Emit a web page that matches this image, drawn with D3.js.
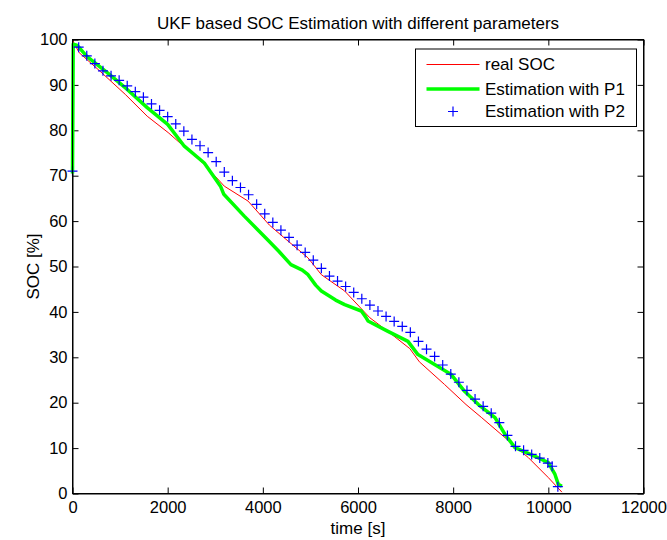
<!DOCTYPE html>
<html>
<head>
<meta charset="utf-8">
<script src="https://cdn.jsdelivr.net/npm/d3@7"></script>
<style>
    html, body { margin: 0; padding: 0; background: #fff; }
    svg { display: block; font-family: 'Liberation Sans', Arial, sans-serif; }
    .axis text { font-size: 16.5px; fill: #000; }
    .axis path, .axis line { stroke: #000; }
</style>
</head>
<body>
<svg id="chart"></svg>
<script>
const WIDTH = 667
const HEIGHT = 540
const PADDING = [39.5, 23.5, 46.5, 72.5] // top, right, bottom, left

const title = 'UKF based SOC Estimation with different parameters'
const xLabel = 'time [s]'
const yLabel = 'SOC [%]'
const seriesNames = ['real SOC', 'Estimation with P1', 'Estimation with P2']

const xTicks = [0, 2000, 4000, 6000, 8000, 10000, 12000]
const yTicks = [0, 10, 20, 30, 40, 50, 60, 70, 80, 90, 100]

// real SOC
const realTime = [0, 140, 580, 1110, 1570, 2010, 2770, 3190, 3690, 4140, 4530, 4950, 5230,
    5720, 6250, 6630, 7090, 7290, 7820, 8270, 8600, 9090, 9580, 10000, 10285]
const realSoc = [99.8, 97.1, 93.0, 87.9, 83.1, 79.5, 72.5, 67.7, 64.4, 59.1, 55.6, 51.9, 48.2,
    44.6, 38.7, 35.7, 31.9, 29.0, 24.0, 19.6, 16.7, 12.3, 7.9, 3.5, 0.3]

// estimation with P1 (green)
const p1Time = [0, 15, 100, 300, 730, 1150, 1570, 2000, 2350, 2770, 3110, 3180, 3610, 4100,
    4340, 4590, 4830, 4950, 5110, 5230, 5530, 5720, 6070, 6160, 6210, 6630, 7050, 7260,
    7610, 7960, 8240, 8530, 8880, 9090, 9300, 9720, 10000, 10140, 10210, 10285]
const p1Soc = [70.5, 99.0, 98.7, 96.3, 92.7, 89.0, 85.0, 81.3, 76.5, 72.8, 67.7, 65.9, 61.1, 55.9,
    53.3, 50.4, 49.2, 48.2, 45.9, 44.6, 42.6, 41.6, 40.2, 38.9, 38.0, 35.7, 33.5, 30.6,
    28.4, 26.2, 22.5, 19.6, 16.7, 13.0, 10.1, 8.2, 6.8, 4.2, 2.0, 1.6]

// estimation with P2 (blue markers)
const p2Time = [0, 130, 300, 470, 640, 810, 980, 1150, 1320, 1490, 1660, 1830, 2000, 2170, 2340,
    2510, 2680, 2850, 3020, 3190, 3360, 3530, 3700, 3870, 4040, 4210, 4380, 4550, 4720,
    4890, 5060, 5230, 5400, 5570, 5740, 5910, 6080, 6250, 6420, 6590, 6760, 6930, 7100,
    7270, 7440, 7610, 7780, 7950, 8120, 8290, 8460, 8630, 8800, 8970, 9140, 9310, 9480,
    9650, 9820, 9990, 10080, 10200]
const p2Soc = [71.0, 98.3, 96.4, 94.7, 93.1, 92.0, 91.0, 89.8, 88.5, 87.3, 85.8, 84.4, 83.0, 81.4, 79.8,
    78.0, 76.6, 75.1, 73.1, 70.8, 68.9, 67.4, 65.8, 63.7, 61.6, 59.7, 58.0, 56.4, 54.7,
    53.1, 51.4, 49.6, 47.9, 46.8, 45.6, 44.3, 42.9, 41.5, 40.2, 39.0, 37.9, 36.8, 35.5,
    33.5, 31.8, 30.2, 28.3, 26.3, 24.5, 22.7, 20.8, 19.2, 17.7, 15.6, 12.8, 10.4, 9.5,
    8.6, 7.8, 6.7, 6.0, 1.5]

const leftSide = PADDING[3]
const rightSide = WIDTH - PADDING[1]
const topSide = PADDING[0]
const bottomSide = HEIGHT - PADDING[2]

const svg = d3.select('#chart')
    .attr('width', WIDTH)
    .attr('height', HEIGHT)
    .attr('viewBox', `0 0 ${WIDTH} ${HEIGHT}`)

const xScale = d3.scaleLinear().domain([0, 12000]).range([leftSide, rightSide])
const yScale = d3.scaleLinear().domain([0, 100]).range([bottomSide, topSide])

// plot background
svg.append('rect')
    .attr('x', leftSide).attr('y', topSide)
    .attr('width', rightSide - leftSide).attr('height', bottomSide - topSide)
    .attr('fill', '#fff')

// axes, ticks pointing inward like matlab
svg.append('g').attr('class', 'axis')
    .attr('transform', `translate(0,${bottomSide})`)
    .call(d3.axisBottom(xScale).tickValues(xTicks).tickSizeInner(-6).tickSizeOuter(0).tickPadding(8).tickFormat(d3.format('d')))
svg.append('g').attr('class', 'axis')
    .attr('transform', `translate(0,${topSide})`)
    .call(d3.axisTop(xScale).tickValues(xTicks).tickSizeInner(-6).tickSizeOuter(0).tickFormat(''))
svg.append('g').attr('class', 'axis')
    .attr('transform', `translate(${leftSide},0)`)
    .call(d3.axisLeft(yScale).tickValues(yTicks).tickSizeInner(-6).tickSizeOuter(0).tickPadding(5))
svg.append('g').attr('class', 'axis')
    .attr('transform', `translate(${rightSide},0)`)
    .call(d3.axisRight(yScale).tickValues(yTicks).tickSizeInner(-6).tickSizeOuter(0).tickFormat(''))

const plot = svg.append('g')

const line = d3.line()
    .x(d => xScale(d[0]))
    .y(d => yScale(d[1]))

plot.append('path')
    .datum(d3.zip(realTime, realSoc))
    .attr('fill', 'none')
    .attr('stroke', '#ff0000')
    .attr('stroke-width', 1)
    .attr('d', line)

plot.append('path')
    .datum(d3.zip(p1Time, p1Soc))
    .attr('fill', 'none')
    .attr('stroke', '#00ff00')
    .attr('stroke-width', 3.5)
    .attr('stroke-linejoin', 'round')
    .attr('d', line)

const MARK = 5

function drawPlus(g, cx, cy) {
    g.append('path')
        .attr('d', `M${cx - MARK},${cy}H${cx + MARK}M${cx},${cy - MARK}V${cy + MARK}`)
        .attr('stroke', '#0000ff')
        .attr('stroke-width', 1.2)
        .attr('fill', 'none')
}

d3.zip(p2Time, p2Soc).forEach(d => drawPlus(plot, xScale(d[0]), yScale(d[1])))

// frame on top
svg.append('rect')
    .attr('x', leftSide).attr('y', topSide)
    .attr('width', rightSide - leftSide).attr('height', bottomSide - topSide)
    .attr('fill', 'none')
    .attr('stroke', '#000')
    .attr('stroke-width', 1)

// title and labels
svg.append('text')
    .attr('x', (leftSide + rightSide) / 2)
    .attr('y', 29)
    .attr('text-anchor', 'middle')
    .attr('font-size', 17)
    .text(title)

svg.append('text')
    .attr('x', (leftSide + rightSide) / 2)
    .attr('y', 534)
    .attr('text-anchor', 'middle')
    .attr('font-size', 17)
    .text(xLabel)

svg.append('text')
    .attr('transform', `translate(39,${(topSide + bottomSide) / 2}) rotate(-90)`)
    .attr('text-anchor', 'middle')
    .attr('font-size', 17)
    .text(yLabel)

// legend
const legend = svg.append('g').attr('transform', 'translate(415.5,49)')
legend.append('rect')
    .attr('width', 221).attr('height', 77.5)
    .attr('fill', '#fff')
    .attr('stroke', '#000')
    .attr('stroke-width', 1)

const rowY = [15.5, 40, 62.5]
legend.append('line')
    .attr('x1', 11).attr('x2', 64).attr('y1', rowY[0]).attr('y2', rowY[0])
    .attr('stroke', '#ff0000').attr('stroke-width', 1)
legend.append('line')
    .attr('x1', 11).attr('x2', 64).attr('y1', rowY[1]).attr('y2', rowY[1])
    .attr('stroke', '#00ff00').attr('stroke-width', 3.5)
drawPlus(legend, 37.5, rowY[2])

legend.selectAll('text.item')
    .data(seriesNames)
    .join('text')
    .attr('class', 'item')
    .attr('x', 69.5)
    .attr('y', (d, i) => rowY[i])
    .attr('dy', '0.35em')
    .attr('font-size', 17)
    .text(d => d)
</script>
</body>
</html>
